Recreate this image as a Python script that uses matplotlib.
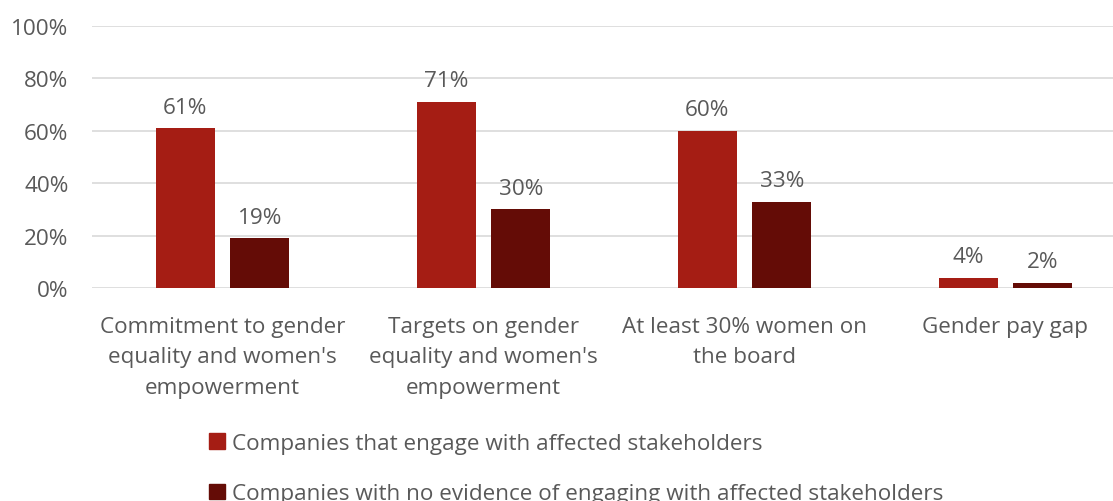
import matplotlib.pyplot as plt
import numpy as np

# Data
categories = [
    "Commitment to gender\nequality and women's\nempowerment",
    "Targets on gender\nequality and women's\nempowerment",
    "At least 30% women on\nthe board",
    "Gender pay gap",
]
engaged = [61, 71, 60, 4]
not_engaged = [19, 30, 33, 2]
series_names = [
    "Companies that engage with affected stakeholders",
    "Companies with no evidence of engaging with affected stakeholders",
]
colors = ["#A51D14", "#640C06"]
text_color = "#595959"

plt.rcParams['font.family'] = ['Open Sans', 'DejaVu Sans']
fs = 16.2

fig = plt.figure(figsize=(11.13, 5.02), dpi=100)
W, H = 1113, 502
# axes from x=92 spanning 4 categories of 261 px; y=0 at 289, 100% at 27
ax = fig.add_axes([92 / W, (H - 289) / H, 1044 / W, 262 / H])

x = np.arange(len(categories))
width = 0.226
offset = 0.143
b1 = ax.bar(x - offset, engaged, width, color=colors[0], label=series_names[0], zorder=3)
b2 = ax.bar(x + offset, not_engaged, width, color=colors[1], label=series_names[1], zorder=3)

for bars, vals in ((b1, engaged), (b2, not_engaged)):
    for rect, v in zip(bars, vals):
        ax.text(rect.get_x() + rect.get_width() / 2, v + 4, f"{v}%",
                ha='center', va='bottom', fontsize=fs, color=text_color)

ax.set_xlim(-0.5, 3.5)
ax.set_ylim(0, 100)
ax.set_yticks(range(0, 101, 20))
ax.set_yticklabels([f"{t}%" for t in range(0, 101, 20)])
ax.set_xticks(x)
ax.set_xticklabels(categories, linespacing=1.6)
ax.tick_params(axis='both', length=0, labelsize=fs, labelcolor=text_color)
ax.tick_params(axis='y', pad=17)
ax.tick_params(axis='x', pad=20)
ax.yaxis.grid(True, color='#D9D9D9', linewidth=1.2, zorder=0)
for s in ax.spines.values():
    s.set_visible(False)

handles = [plt.Rectangle((0, 0), 1, 1, color=c) for c in colors]
leg = fig.legend(handles, series_names, loc='upper left',
                 bbox_to_anchor=(200 / W, 1 - 425 / H), frameon=False,
                 fontsize=fs, labelcolor=text_color, handlelength=0.7,
                 handleheight=0.7, handletextpad=0.3, labelspacing=1.3,
                 borderaxespad=0)

fig.savefig("out.png", dpi=100)
